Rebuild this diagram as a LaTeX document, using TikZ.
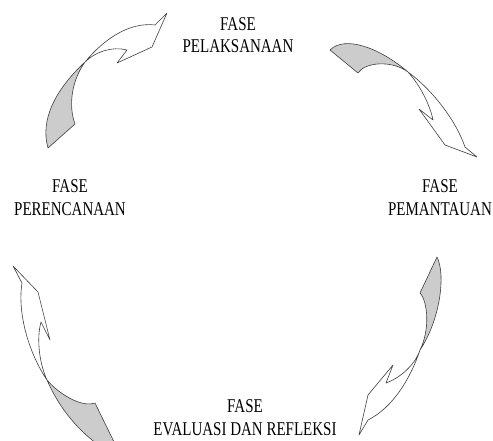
\documentclass[tikz,border=0pt]{standalone}
\usepackage{fontspec}
\setmainfont{Liberation Serif}
\begin{document}
\begin{tikzpicture}[x=1pt,y=-1pt,
  ribbon/.style={draw=black!75,line width=0.6pt,line join=round},
  back/.style={ribbon,fill=black!20},
  front/.style={ribbon,fill=white},
  phase/.style={font=\fontsize{15}{17}\selectfont,align=center,anchor=base,yscale=1.3,inner sep=0pt}]
\useasboundingbox (0,0) rectangle (493,441);
\clip (0,0) rectangle (493,441);
% labels
\node[phase] (pel) at (238,53) {FASE\\PELAKSANAAN};
\node[phase] (per) at (70,215) {FASE\\PERENCANAAN};
\node[phase] (pem) at (440,215) {FASE\\PEMANTAUAN};
\node[phase] (eva) at (245,435) {FASE\\EVALUASI DAN REFLEKSI};
% arrow 1: top-left
\draw[back] (48,148) .. controls (40,120) and (55,90) .. (85,62)
  .. controls (72,80) and (68,105) .. (75,124) -- cycle;
\draw[front] (85,62) .. controls (105,38) and (130,22) .. (155,25)
  -- (167,13) -- (152,47) -- (117,63) -- (127,50)
  .. controls (112,46) and (95,52) .. cycle;
% arrow 2: top-right
\draw[back] (330,50) .. controls (345,35) and (380,48) .. (408,72)
  .. controls (392,60) and (365,62) .. (358,73) -- cycle;
\draw[front] (408,72) .. controls (430,88) and (455,118) .. (465,147)
  -- (477,157) -- (445,145) -- (419,109) -- (433,120)
  .. controls (430,105) and (420,85) .. cycle;
% arrow 3: bottom-left
\draw[front] (47,380) .. controls (30,355) and (17,315) .. (22,283)
  -- (13,266) -- (38,292) -- (50,340) -- (41,322)
  .. controls (36,340) and (40,365) .. cycle;
\draw[back] (47,380) .. controls (60,410) and (80,432) .. (100,446)
  -- (116,446) -- (95,403) .. controls (80,408) and (57,392) .. cycle;
% arrow 4: bottom-right
\draw[back] (437,257) .. controls (446,275) and (440,320) .. (420,350)
  .. controls (430,330) and (428,302) .. (420,293) -- cycle;
\draw[front] (420,350) .. controls (410,380) and (392,408) .. (368,420)
  -- (359,435) -- (368,395) -- (393,365) -- (386,383)
  .. controls (400,378) and (415,365) .. cycle;
\end{tikzpicture}
\end{document}
